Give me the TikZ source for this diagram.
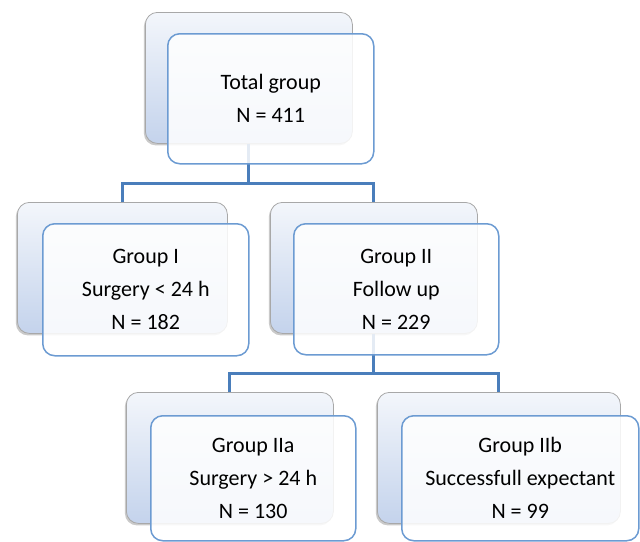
\documentclass[tikz,border=0pt]{standalone}
\usepackage{fontspec}
\setmainfont{Carlito}
\usetikzlibrary{shadows}
\definecolor{connblue}{HTML}{4A7EBB}
\definecolor{frontblue}{HTML}{6C9BD2}
\definecolor{backtop}{HTML}{F3F6FB}
\definecolor{backbot}{HTML}{C4D3EC}
\definecolor{backedge}{HTML}{A8A8A8}
\tikzset{
 backbox/.style={draw=backedge, line width=0.8pt, rounded corners=12pt, top color=backtop, bottom color=backbot,
   minimum height=131pt, inner sep=0pt, anchor=north west,
   drop shadow={shadow xshift=-1.5pt, shadow yshift=-2pt, opacity=0.35, fill=black!60}},
 frontbox/.style={draw=frontblue, line width=1.5pt, rounded corners=12pt, fill=white, fill opacity=0.85,
   text opacity=1, draw opacity=1, align=center, inner sep=0pt, anchor=north west,
   font=\fontsize{22}{33}\selectfont},
 conn/.style={draw=connblue, line width=3pt},
}
\begin{document}
\begin{tikzpicture}[x=1pt,y=-1pt]
\useasboundingbox (0,0) rectangle (640,541);
% back boxes
\node[backbox, minimum width=207pt] (t0b) at (145,12) {};
\node[backbox, minimum width=210pt] (g1b) at (17,202) {};
\node[backbox, minimum width=207pt] (g2b) at (270,202) {};
\node[backbox, minimum width=207pt] (g3b) at (126,392) {};
\node[backbox, minimum width=243pt] (g4b) at (377,392) {};
% connectors
\coordinate (j1) at (248.5,183);
\coordinate (j2) at (373.5,373);
\draw[conn] (t0b.south) -- (t0b.south |- j1);
\draw[conn] (g1b.north) |- (j1) -| (g2b.north);
\draw[conn] (g2b.south) -- (g2b.south |- j2);
\draw[conn] (g3b.north) |- (j2) -| (g4b.north);
% front boxes
\node[frontbox, minimum width=206pt, minimum height=130pt] (t0f) at (167,33) {Total group\\N = 411};
\node[frontbox, minimum width=206pt, minimum height=132pt] (g1f) at (42,223) {Group I\\Surgery < 24 h\\N = 182};
\node[frontbox, minimum width=205pt, minimum height=131pt] (g2f) at (293,223) {Group II\\Follow up\\N = 229};
\node[frontbox, minimum width=205pt, minimum height=125pt] (g3f) at (150,415) {Group IIa\\Surgery > 24 h\\N = 130};
\node[frontbox, minimum width=237pt, minimum height=125pt] (g4f) at (401,415) {Group IIb\\Successfull expectant\\N = 99};
\end{tikzpicture}
\end{document}
